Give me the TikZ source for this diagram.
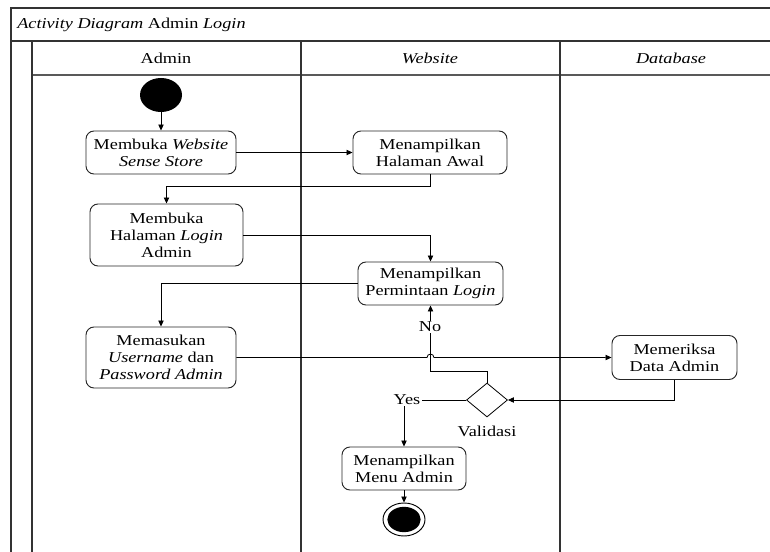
\documentclass[tikz,border=0pt]{standalone}
\usepackage{fontspec}
\setmainfont{Liberation Serif}[FakeStretch=1.21]
\usetikzlibrary{shapes.geometric,arrows.meta,calc}

\tikzset{
  x=0.75pt, y=-0.75pt,
  every node/.style={font=\fontsize{11.3}{12.75}\selectfont, text=black},
  act/.style={draw=black!85, line width=0.7pt, rounded corners=6pt, fill=white,
    align=center, inner sep=1pt},
  frameline/.style={draw=black!80, line width=0.8pt},
  flow/.style={draw=black, line width=0.6pt, -{Triangle[length=4.5pt,width=4pt]}},
  plain/.style={draw=black, line width=0.6pt},
  guard/.style={fill=white, inner sep=1pt},
}

\begin{document}
\begin{tikzpicture}
\useasboundingbox (0,0) rectangle (770,552);
\clip (0,0) rectangle (770,552);
\fill[white] (0,0) rectangle (770,552);

% swimlane frame
\draw[frameline] (11,560) -- (11,8) -- (790,8);
\draw[frameline] (11,41) -- (790,41);
\draw[frameline, draw=black!65] (32,75) -- (790,75);
\draw[frameline] (32,41) -- (32,560);
\draw[frameline] (301,41) -- (301,560);
\draw[frameline] (560,41) -- (560,560);

\node[anchor=west, inner sep=0pt] (title) at (17,24.5) {\textit{Activity Diagram} Admin \textit{Login}};
\node (laneA) at (166,58) {Admin};
\node (laneW) at (430,58) {\textit{Website}};
\node (laneD) at (671,58) {\textit{Database}};

% activities
\node[ellipse, fill=black, minimum width=31.5pt, minimum height=25.5pt, inner sep=0pt] (start) at (161,95) {};
\node[act, minimum width=112.5pt, minimum height=32.25pt] (n1) at (161,152.5) {Membuka \textit{Website}\\\textit{Sense Store}};
\node[act, minimum width=115.5pt, minimum height=32.25pt] (n2) at (430,152.5) {Menampilkan\\Halaman Awal};
\node[act, minimum width=114.75pt, minimum height=46.5pt] (n3) at (166.5,235) {Membuka\\Halaman \textit{Login}\\Admin};
\node[act, minimum width=108.75pt, minimum height=32.25pt] (n4) at (430.5,283.5) {Menampilkan\\Permintaan \textit{Login}};
\node[act, minimum width=112.5pt, minimum height=45.75pt] (n5) at (161,357.5) {Memasukan\\\textit{Username} dan\\\textit{Password Admin}};
\node[act, minimum width=93.75pt, minimum height=33pt] (n6) at (674.5,357.5) {Memeriksa\\Data Admin};
\node[diamond, draw=black, line width=0.6pt, fill=white, minimum width=30.75pt, minimum height=25.5pt, inner sep=0pt] (dec) at (487,400) {};
\node (declabel) at (487,431) {Validasi};
\node[act, minimum width=93pt, minimum height=32.25pt] (n7) at (404,468.5) {Menampilkan\\Menu Admin};
\node[ellipse, draw=black, line width=0.7pt, fill=white, minimum width=31.5pt, minimum height=24.75pt, inner sep=0pt] (stop) at (404,519.5) {};
\node[ellipse, fill=black, minimum width=25pt, minimum height=19pt, inner sep=0pt] (stopdot) at (stop.center) {};

% control flow
\draw[flow] (start) -- (n1);
\draw[flow] (n1) -- (n2);
\draw[flow] (n2.south) -- ++(0,12) -| (n3.north);
\draw[flow] (n3.east) -| (n4.north);
\draw[flow] (n4.west) -| (n5.north);
\draw[flow] (n5.east) -- ($(n5.east -| n4.south)+(-3.5,0)$)
  arc[start angle=180, end angle=0, radius=2.6pt] -- (n6.west);
\draw[flow] (n6.south) |- (dec.east);
\draw[flow] (dec.north) -- ++(0,-11) -| (n4.south);
\draw[flow] (dec.west) -| (n7.north);
\draw[flow] (n7) -- (stop);

% guards
\node[guard] (no) at (430,327) {No};
\node[guard] (yes) at (407,400) {Yes};
\end{tikzpicture}
\end{document}
